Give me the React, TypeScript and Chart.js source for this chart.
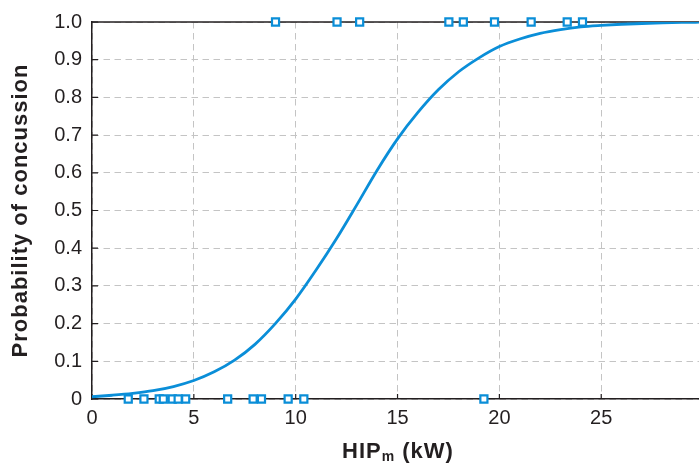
import React, { useEffect, useRef } from "react";
import { Chart, registerables } from "chart.js";

Chart.register(...registerables);

// ---- data ----
const X_MIN = 0;
const X_MAX = 29.8;
const xTickValues = [0, 5, 10, 15, 20, 25];
const xTickLabels = ["0", "5", "10", "15", "20", "25"];
const yTickValues = [0, 0.1, 0.2, 0.3, 0.4, 0.5, 0.6, 0.7, 0.8, 0.9, 1.0];
const yTickLabels = ["0", "0.1", "0.2", "0.3", "0.4", "0.5", "0.6", "0.7", "0.8", "0.9", "1.0"];

// HIPm values of concussed cases (probability 1)
const concussedHIP = [9.01, 12.03, 13.14, 17.52, 18.23, 19.76, 21.56, 23.33, 24.08];
// HIPm values of non-concussed cases (probability 0)
const nonConcussedHIP = [1.78, 2.55, 3.3, 3.5, 3.94, 4.23, 4.6, 6.66, 7.91, 8.32, 9.63, 10.4, 19.24];

// fitted curve
const fitHIP = [0, 1, 2, 3, 4, 5, 6, 7, 8, 9, 10, 11, 12, 13, 14, 15, 16, 17, 18, 19, 20, 21, 22, 23, 24, 25, 26, 27, 28, 29, 30];
const fitProbability = [
  0.006, 0.01, 0.015, 0.022, 0.033, 0.049, 0.072, 0.103, 0.145, 0.2, 0.265, 0.342, 0.425, 0.515,
  0.607, 0.69, 0.76, 0.82, 0.868, 0.905, 0.935, 0.955, 0.97, 0.98, 0.987, 0.991, 0.994, 0.996,
  0.998, 0.999, 0.9995,
];

const BLUE = "#0a8ed8";
const INK = "#231f20";
const GRID = "#c4c4c4";
const FONT = "'Liberation Sans', Arial, Helvetica, sans-serif";

const decorPlugin = {
  id: "decor",
  beforeDatasetsDraw(chart: any) {
    const { ctx, chartArea, scales } = chart;
    const xs = scales.x;
    const ys = scales.y;
    ctx.save();
    ctx.strokeStyle = INK;
    ctx.lineWidth = 1.5;
    const yTop = ys.getPixelForValue(1);
    ctx.beginPath();
    ctx.moveTo(chartArea.left, yTop);
    ctx.lineTo(chartArea.right, yTop);
    ctx.stroke();
    ctx.lineWidth = 1.2;
    ctx.beginPath();
    for (const v of xTickValues) {
      const px = xs.getPixelForValue(v);
      ctx.moveTo(px, chartArea.bottom);
      ctx.lineTo(px, chartArea.bottom - 5);
    }
    for (const v of yTickValues) {
      const py = ys.getPixelForValue(v);
      ctx.moveTo(chartArea.left, py);
      ctx.lineTo(chartArea.left + 6, py);
    }
    ctx.stroke();
    ctx.restore();
  },
  afterDraw(chart: any) {
    const { ctx, chartArea } = chart;
    ctx.save();
    ctx.fillStyle = INK;
    // y title
    ctx.save();
    ctx.translate(27, (chartArea.top + chartArea.bottom) / 2);
    ctx.rotate(-Math.PI / 2);
    ctx.font = `bold 22px ${FONT}`;
    (ctx as any).letterSpacing = "1px";
    ctx.textAlign = "center";
    ctx.textBaseline = "alphabetic";
    ctx.fillText("Probability of concussion", 0, 0);
    ctx.restore();

    // x title with subscript
    (ctx as any).letterSpacing = "1px";
    ctx.textBaseline = "alphabetic";
    ctx.textAlign = "left";
    const mainFont = `bold 22px ${FONT}`;
    const subFont = `bold 14px ${FONT}`;
    ctx.font = mainFont;
    const w1 = ctx.measureText("HIP").width;
    const w3 = ctx.measureText(" (kW)").width;
    ctx.font = subFont;
    const w2 = ctx.measureText("m").width;
    const total = w1 + w2 + w3;
    const cx = 398;
    let x = cx - total / 2;
    const base = 458;
    ctx.font = mainFont;
    ctx.fillText("HIP", x, base);
    x += w1;
    ctx.font = subFont;
    ctx.fillText("m", x, base + 3);
    x += w2;
    ctx.font = mainFont;
    ctx.fillText(" (kW)", x, base);
    ctx.restore();
  },
};

export default function App() {
  const ref = useRef<HTMLCanvasElement>(null);

  useEffect(() => {
    const canvas = ref.current;
    if (!canvas) return;
    const curve = fitHIP.map((x, i) => ({ x, y: fitProbability[i] }));
    const ones = concussedHIP.map((x) => ({ x, y: 1 }));
    const zeros = nonConcussedHIP.map((x) => ({ x, y: 0 }));
    const pointStyle = {
      showLine: false,
      pointStyle: "rect" as const,
      pointRadius: 5,
      pointHoverRadius: 5,
      pointBorderWidth: 2.2,
      pointBackgroundColor: "#ffffff",
      pointBorderColor: BLUE,
      borderColor: BLUE,
      backgroundColor: "#ffffff",
      clip: false as any,
    };
    const chart = new Chart(canvas, {
      type: "scatter",
      data: {
        datasets: [
          {
            label: "fit",
            data: curve,
            showLine: true,
            borderColor: BLUE,
            borderWidth: 2.8,
            pointRadius: 0,
            cubicInterpolationMode: "monotone",
            fill: false,
            order: 2,
          } as any,
          { label: "concussion", data: ones, order: 1, ...pointStyle } as any,
          { label: "no concussion", data: zeros, order: 1, ...pointStyle } as any,
        ],
      },
      options: {
        responsive: false,
        animation: false,
        devicePixelRatio: 1,
        layout: { autoPadding: false, padding: { top: 19, right: 0, left: 0, bottom: 0 } },
        plugins: {
          legend: { display: false },
          tooltip: { enabled: false },
          title: { display: false },
        },
        events: [],
        scales: {
          x: {
            type: "linear",
            min: X_MIN,
            max: X_MAX,
            afterBuildTicks: (scale: any) => {
              scale.ticks = xTickValues.map((v) => ({ value: v }));
            },
            afterFit: (scale: any) => {
              scale.height = 65;
            },
            ticks: {
              autoSkip: false,
              maxRotation: 0,
              padding: 7,
              color: INK,
              font: { family: FONT, size: 20 },
              callback: (value: any) => {
                const i = xTickValues.indexOf(Number(value));
                return i >= 0 ? xTickLabels[i] : "";
              },
            },
            grid: {
              color: GRID,
              lineWidth: 1,
              drawTicks: false,
            },
            border: { display: true, color: INK, width: 1.5, dash: [6.5, 4.5] },
          },
          y: {
            type: "linear",
            min: 0,
            max: 1,
            afterBuildTicks: (scale: any) => {
              scale.ticks = yTickValues.map((v) => ({ value: v }));
            },
            afterFit: (scale: any) => {
              scale.width = 92;
            },
            ticks: {
              autoSkip: false,
              padding: 10,
              color: INK,
              font: { family: FONT, size: 20 },
              callback: (value: any) => {
                const i = yTickValues.findIndex((v) => Math.abs(v - Number(value)) < 1e-6);
                return i >= 0 ? yTickLabels[i] : "";
              },
            },
            grid: {
              color: GRID,
              lineWidth: 1,
              drawTicks: false,
            },
            border: { display: true, color: INK, width: 1.5, dash: [6.5, 4.5] },
          },
        },
      },
      plugins: [decorPlugin],
    });
    return () => chart.destroy();
  }, []);

  return (
    <div style={{ position: "absolute", left: 0, top: 0, width: 699, height: 464, background: "#ffffff" }}>
      <canvas ref={ref} width={699} height={464} style={{ display: "block" }} />
    </div>
  );
}
